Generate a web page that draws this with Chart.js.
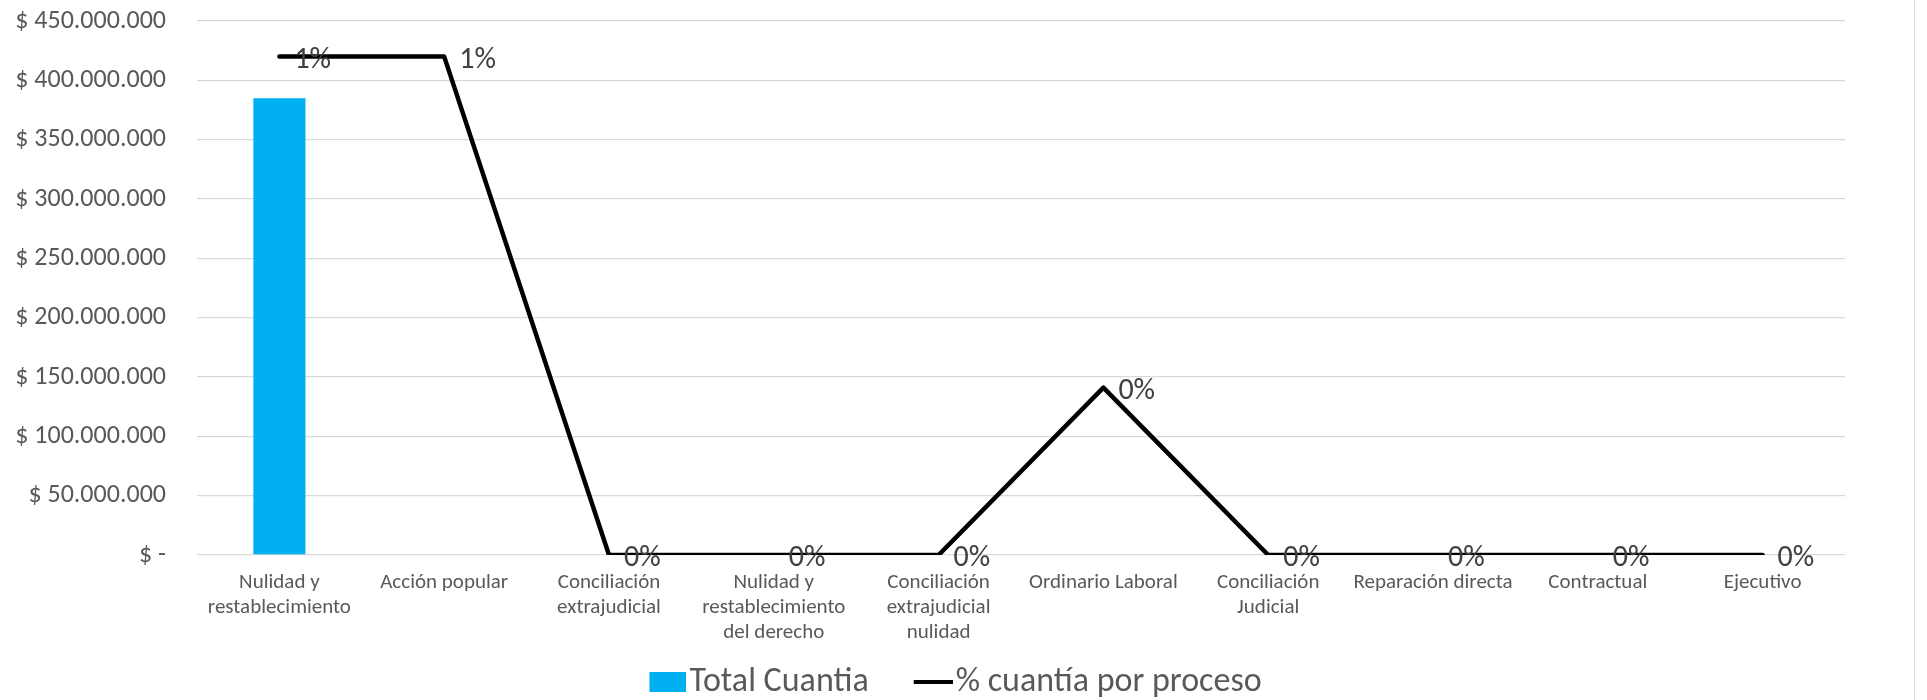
<!DOCTYPE html>
<html>
<head>
<meta charset="utf-8">
<script src="https://cdn.jsdelivr.net/npm/chart.js@4.4.1/dist/chart.umd.min.js"></script>
<style>
  html, body { margin: 0; padding: 0; background: #fff; }
  #wrap { width: 1914px; height: 700px; border-right: 1px solid #d9d9d9; }
  canvas { display: block; }
</style>
</head>
<body>
<div id="wrap"><canvas id="c" width="1914" height="700"></canvas></div>
<script>
const categories = [
  ['Nulidad y', 'restablecimiento'],
  'Acción popular',
  ['Conciliación', 'extrajudicial'],
  ['Nulidad y', 'restablecimiento', 'del derecho'],
  ['Conciliación', 'extrajudicial', 'nulidad'],
  'Ordinario Laboral',
  ['Conciliación', 'Judicial'],
  'Reparación directa',
  'Contractual',
  'Ejecutivo'
];
const totalCuantia = [385000000, 0, 0, 0, 0, 0, 0, 0, 0, 0];
const pctCuantia = [0.014, 0.014, 0, 0, 0, 0.0047, 0, 0, 0, 0];
const rightTickLabels = ['0%', '0%', '0%', '0%', '1%', '1%', '1%', '1%', '1%', '2%'];
const leftMax = 450000000;
const leftStep = 50000000;
const rightMax = 0.015;

const FONT = "Carlito, Calibri, Lato, sans-serif";
const BAR_COLOR = '#00B0F0';
const LINE_COLOR = '#000000';

function fmtMoney(v) {
  if (v === 0) return '$ -';
  return '$ ' + Math.round(v).toString().replace(/\B(?=(\d{3})+(?!\d))/g, '.');
}

// legend markers: drawn at the right end of a wider transparent image so that
// the marker sits close to its text, as in the original
const LEG_BOXW = 66, LEG_FONT = 34;
function legendImage(kind) {
  const w = LEG_BOXW + LEG_FONT - 6;
  const c = document.createElement('canvas');
  const ctx = c.getContext('2d');
  if (kind === 'bar') {
    c.width = w; c.height = 20;
    ctx.fillStyle = BAR_COLOR;
    ctx.fillRect(w - 37, 0, 37, 20);
  } else {
    c.width = w; c.height = 4;
    ctx.fillStyle = LINE_COLOR;
    ctx.fillRect(w - 39, 0, 39, 4);
  }
  return c;
}
const legendImgs = [legendImage('bar'), legendImage('line')];

const dataLabels = {
  id: 'dataLabels',
  afterDatasetsDraw(chart) {
    const meta = chart.getDatasetMeta(1);
    const ctx = chart.ctx;
    ctx.save();
    ctx.font = "30px " + FONT;
    ctx.fillStyle = '#404040';
    ctx.textAlign = 'left';
    ctx.textBaseline = 'middle';
    meta.data.forEach((pt, i) => {
      const v = chart.data.datasets[1].data[i];
      ctx.fillText(Math.round(v * 100) + '%', pt.x + 15, pt.y + 3.5);
    });
    ctx.restore();
  }
};

new Chart(document.getElementById('c'), {
  data: {
    labels: categories,
    datasets: [
      {
        type: 'bar',
        label: 'Total Cuantia',
        data: totalCuantia,
        backgroundColor: BAR_COLOR,
        yAxisID: 'y',
        categoryPercentage: 1,
        barPercentage: 0.316,
        order: 2
      },
      {
        type: 'line',
        label: '% cuantía por proceso',
        data: pctCuantia,
        borderColor: LINE_COLOR,
        backgroundColor: LINE_COLOR,
        borderWidth: 4.5,
        pointRadius: 0,
        tension: 0,
        borderCapStyle: 'round',
        borderJoinStyle: 'round',
        yAxisID: 'y1',
        order: 1
      }
    ]
  },
  options: {
    responsive: false,
    animation: false,
    devicePixelRatio: 1,
    layout: { padding: { top: 21, left: 0, right: 46, bottom: -9 } },
    plugins: {
      tooltip: { enabled: false },
      legend: {
        position: 'bottom',
        labels: {
          usePointStyle: true,
          pointStyleWidth: LEG_BOXW,
          boxHeight: 20,
          padding: 4,
          color: '#595959',
          font: { family: FONT, size: LEG_FONT },
          sort: (a, b) => a.datasetIndex - b.datasetIndex,
          generateLabels(chart) {
            const items = Chart.defaults.plugins.legend.labels.generateLabels(chart);
            items.forEach(it => { it.pointStyle = legendImgs[it.datasetIndex]; });
            return items;
          }
        }
      }
    },
    scales: {
      x: {
        grid: { display: false, drawTicks: false },
        border: { display: false },
        ticks: {
          color: '#595959',
          font: { family: FONT, size: 21, lineHeight: 1.19 },
          padding: 15,
          maxRotation: 0,
          autoSkip: false
        },
        afterFit(scale) { scale.height = 106; }
      },
      y: {
        position: 'left',
        min: 0,
        max: leftMax,
        grid: { color: '#d9d9d9', lineWidth: 1.3, drawTicks: false },
        border: { display: false },
        ticks: {
          stepSize: leftStep,
          color: '#595959',
          font: { family: FONT, size: 26 },
          padding: 31,
          callback: (v) => fmtMoney(v)
        },
        afterFit(scale) { scale.width = 197; scale.paddingTop = 0; scale.paddingBottom = 0; }
      },
      y1: {
        position: 'right',
        min: 0,
        max: rightMax,
        grid: { display: false, drawTicks: false },
        border: { display: false },
        ticks: {
          count: rightTickLabels.length,
          color: '#595959',
          font: { family: FONT, size: 26 },
          padding: 25,
          callback: (v, i) => rightTickLabels[i]
        },
        afterFit(scale) { scale.width = 23; scale.paddingTop = 0; scale.paddingBottom = 0; }
      }
    }
  },
  plugins: [dataLabels]
});
</script>
</body>
</html>
